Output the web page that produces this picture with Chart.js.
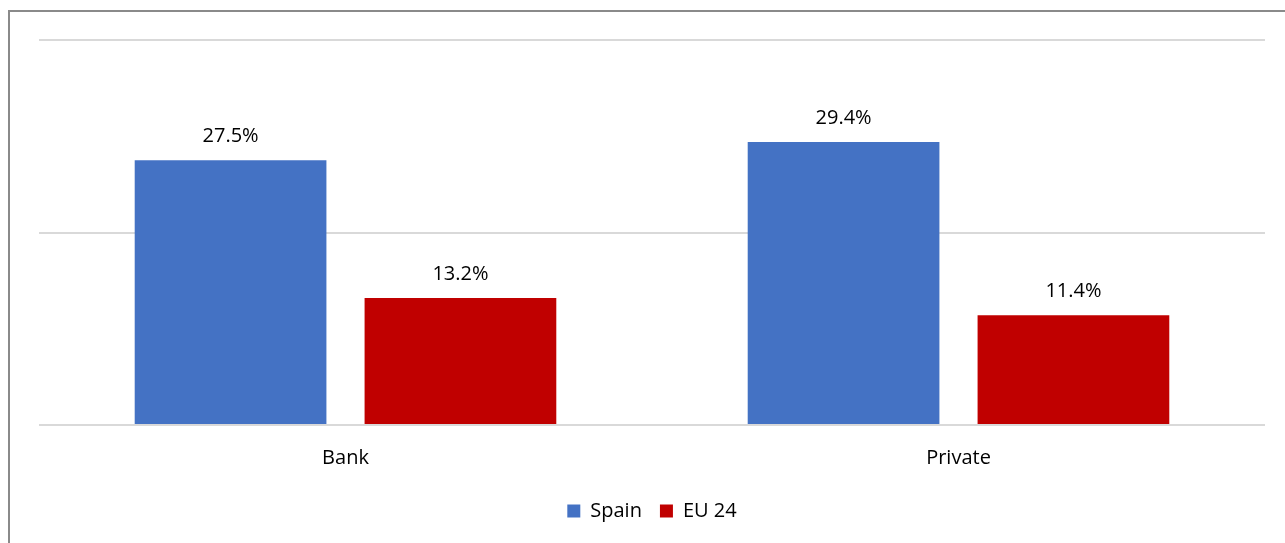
<!DOCTYPE html>
<html>
<head>
<meta charset="utf-8">
<script src="https://cdn.jsdelivr.net/npm/chart.js@4"></script>
<style>
  html, body { margin: 0; padding: 0; background: #fff; }
  #frame {
    position: absolute; left: 8px; top: 10px; width: 1400px; height: 600px;
    border-left: 2px solid #8a8a8a; border-top: 2px solid #8a8a8a;
  }
  #wrap { position: absolute; left: 0; top: 0; width: 1285px; height: 543px; }
</style>
</head>
<body>
<div id="frame"></div>
<div id="wrap"><canvas id="chart"></canvas></div>
<script>
var categories = ['Bank', 'Private'];
var spain = [27.5, 29.4];
var eu24 = [13.2, 11.4];
var yTicks = [0, 20, 40];

var fontFamily = "'Open Sans', 'Noto Sans', sans-serif";

// writes the percentage above each bar
var valueLabels = {
    id: 'valueLabels',
    afterDatasetsDraw: function(chart) {
        var ctx = chart.ctx;
        ctx.save();
        ctx.font = '20px ' + fontFamily;
        ctx.fillStyle = '#000';
        ctx.textAlign = 'center';
        ctx.textBaseline = 'bottom';
        chart.data.datasets.forEach(function(ds, i) {
            chart.getDatasetMeta(i).data.forEach(function(bar, j) {
                ctx.fillText(ds.data[j].toFixed(1) + '%', bar.x, bar.y - 14);
            });
        });
        ctx.restore();
    }
};

var ctx = document.getElementById('chart').getContext('2d');
var chart = new Chart(ctx, {
    type: 'bar',
    data: {
        labels: categories,
        datasets: [{
            label: 'Spain',
            data: spain,
            backgroundColor: '#4472C4'
        }, {
            label: 'EU 24',
            data: eu24,
            backgroundColor: '#C00000'
        }]
    },
    options: {
        responsive: true,
        maintainAspectRatio: false,
        animation: false,
        categoryPercentage: 0.75,
        barPercentage: 0.834,
        layout: { padding: { left: 39, right: 20, top: 40, bottom: 12 } },
        plugins: {
            legend: {
                position: 'bottom',
                labels: {
                    boxWidth: 13,
                    boxHeight: 13,
                    padding: 18,
                    color: '#000',
                    font: { family: fontFamily, size: 20 }
                }
            },
            tooltip: { enabled: false }
        },
        scales: {
            x: {
                grid: { display: false },
                border: { display: false },
                ticks: {
                    color: '#000',
                    padding: 13,
                    font: { family: fontFamily, size: 20 }
                }
            },
            y: {
                min: yTicks[0],
                max: yTicks[yTicks.length - 1],
                afterBuildTicks: function(axis) {
                    axis.ticks = yTicks.map(function(v) { return { value: v }; });
                },
                border: { display: false },
                grid: { color: '#d9d9d9', lineWidth: 2, drawTicks: false },
                ticks: { display: false }
            }
        }
    },
    plugins: [valueLabels]
});
</script>
</body>
</html>
